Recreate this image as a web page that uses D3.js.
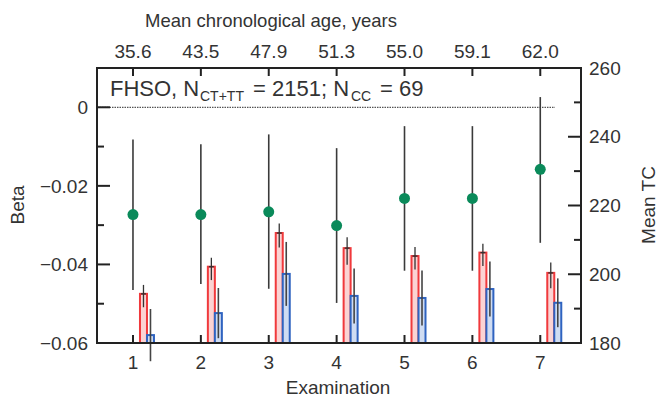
<!DOCTYPE html>
<html>
<head>
<meta charset="utf-8">
<script src="https://cdn.jsdelivr.net/npm/d3@7"></script>
<style>
  body { margin: 0; background: #fff; }
  text { font-family: "Liberation Sans", Arial, sans-serif; fill: #333; }
</style>
</head>
<body>
<svg id="chart" width="659" height="400"></svg>
<script>
"use strict";
// data
var exams = [1, 2, 3, 4, 5, 6, 7];
var ageLabels = ['35.6', '43.5', '47.9', '51.3', '55.0', '59.1', '62.0'];
var betaVal = [-0.0273, -0.0273, -0.0266, -0.0301, -0.0232, -0.0232, -0.0158];
var betaLo = [-0.0465, -0.0450, -0.0462, -0.0498, -0.0416, -0.0416, -0.0345];
var betaHi = [-0.0082, -0.0094, -0.0069, -0.0104, -0.0048, -0.0048, 0.0026];
var tcCtTt = [194.3, 202.2, 212.0, 207.6, 205.3, 206.3, 200.4];
var tcCtTtErr = [1.3, 1.3, 1.4, 1.6, 1.3, 1.3, 1.5];
var tcCc = [182.3, 188.7, 200.1, 193.7, 193.1, 195.7, 191.7];
var tcCcErr = [7.6, 7.3, 9.3, 8.0, 8.0, 8.0, 7.1];

var svg = d3.select('#chart');
var pLeft = 97, pRight = 581, pTop = 68, pBottom = 343;

var x = d3.scaleLinear().domain([0.47, 7.6]).range([pLeft, pRight]);
var yBeta = d3.scaleLinear().domain([-0.06, 0.01]).range([pBottom, pTop]);
var yTc = d3.scaleLinear().domain([180, 260]).range([pBottom, pTop]);

var ink = '#222';
var fmtBeta = function (d) { return d === 0 ? '0' : d3.format('.2f')(d).replace('-', '\u2212'); };

function frameTicks(g, ticks, scale, side, isMajor) {
    // inward ticks on the frame
    ticks.forEach(function (t) {
        var len = isMajor(t) ? 13 : 7;
        var p = scale(t);
        var line = g.append('line').attr('stroke', ink).attr('stroke-width', 2);
        if (side === 'left') line.attr('x1', pLeft).attr('x2', pLeft + len).attr('y1', p).attr('y2', p);
        if (side === 'right') line.attr('x1', pRight).attr('x2', pRight - len).attr('y1', p).attr('y2', p);
    });
}

// zero line
svg.append('line')
    .attr('x1', pLeft).attr('x2', 555)
    .attr('y1', yBeta(0)).attr('y2', yBeta(0))
    .attr('stroke', '#555').attr('stroke-width', 1.2)
    .attr('stroke-dasharray', '1.5,1');

// beta error bars
var bw = 7, redOff = 10.5, blueOff = 17.5;
var gBeta = svg.append('g');
exams.forEach(function (e, i) {
    gBeta.append('line')
        .attr('x1', x(e)).attr('x2', x(e))
        .attr('y1', yBeta(betaLo[i])).attr('y2', yBeta(betaHi[i]))
        .attr('stroke', '#3a3a3a').attr('stroke-width', 1.6);
});

// TC bars
var gBars = svg.append('g');
exams.forEach(function (e, i) {
    gBars.append('rect')
        .attr('x', x(e) + redOff - bw / 2).attr('y', yTc(tcCtTt[i]))
        .attr('width', bw).attr('height', yTc(180) - yTc(tcCtTt[i]))
        .attr('fill', '#fbd3d3').attr('stroke', '#f0393c').attr('stroke-width', 2);
    gBars.append('rect')
        .attr('x', x(e) + blueOff - bw / 2).attr('y', yTc(tcCc[i]))
        .attr('width', bw).attr('height', yTc(180) - yTc(tcCc[i]))
        .attr('fill', '#cfdcf2').attr('stroke', '#2f63c0').attr('stroke-width', 2);
});
exams.forEach(function (e, i) {
    var cx = x(e) + redOff;
    gBars.append('line')
        .attr('x1', cx).attr('x2', cx)
        .attr('y1', yTc(tcCtTt[i] - tcCtTtErr[i] * 3)).attr('y2', yTc(tcCtTt[i] + tcCtTtErr[i] * 2))
        .attr('stroke', '#333').attr('stroke-width', 1.3);
    gBars.append('line')
        .attr('x1', cx - 2.5).attr('x2', cx + 2.5)
        .attr('y1', yTc(tcCtTt[i])).attr('y2', yTc(tcCtTt[i]))
        .attr('stroke', '#333').attr('stroke-width', 1.3);
    var bx = x(e) + blueOff;
    gBars.append('line')
        .attr('x1', bx).attr('x2', bx)
        .attr('y1', yTc(tcCc[i] - tcCcErr[i])).attr('y2', yTc(tcCc[i] + tcCcErr[i]))
        .attr('stroke', '#444').attr('stroke-width', 1.6);
});

// points on top
exams.forEach(function (e, i) {
    gBeta.append('circle')
        .attr('cx', x(e)).attr('cy', yBeta(betaVal[i])).attr('r', 5.5)
        .attr('fill', '#0a8a5a');
});

// frame
svg.append('rect')
    .attr('x', pLeft).attr('y', pTop)
    .attr('width', pRight - pLeft).attr('height', pBottom - pTop)
    .attr('fill', 'none').attr('stroke', ink).attr('stroke-width', 2);

// left axis
var gl = svg.append('g');
frameTicks(gl, [-0.06, -0.05, -0.04, -0.03, -0.02, -0.01, 0], yBeta, 'left',
    function (t) { return Math.round(t * 100) % 2 === 0; });
[-0.06, -0.04, -0.02, 0].forEach(function (t) {
    gl.append('text').attr('x', 88).attr('y', yBeta(t)).attr('dy', '0.35em')
        .attr('text-anchor', 'end').style('font-size', '19px').text(fmtBeta(t));
});

// right axis
var gr = svg.append('g');
frameTicks(gr, d3.range(180, 261, 10), yTc, 'right', function (t) { return t % 20 === 0; });
yTc.ticks(4).forEach(function (t) {
    gr.append('text').attr('x', 589).attr('y', yTc(t)).attr('dy', '0.35em')
        .style('font-size', '19px').text(t);
});

// bottom and top ticks
exams.forEach(function (e, i) {
    svg.append('line').attr('x1', x(e)).attr('x2', x(e)).attr('y1', pBottom).attr('y2', pBottom - 8)
        .attr('stroke', ink).attr('stroke-width', 2);
    svg.append('line').attr('x1', x(e)).attr('x2', x(e)).attr('y1', pTop).attr('y2', pTop + 8)
        .attr('stroke', ink).attr('stroke-width', 2);
    svg.append('text').attr('x', x(e)).attr('y', 369).attr('text-anchor', 'middle')
        .style('font-size', '19px').text(e);
    svg.append('text').attr('x', x(e)).attr('y', 58).attr('text-anchor', 'middle')
        .style('font-size', '19px').text(ageLabels[i]);
});

// titles
svg.append('text').attr('x', 271).attr('y', 27).attr('text-anchor', 'middle')
    .style('font-size', '18.5px').text('Mean chronological age, years');
svg.append('text').attr('x', 338).attr('y', 394).attr('text-anchor', 'middle')
    .style('font-size', '19px').text('Examination');
svg.append('text').attr('transform', 'translate(24,205) rotate(-90)').attr('text-anchor', 'middle')
    .style('font-size', '19px').text('Beta');
svg.append('text').attr('transform', 'translate(655,205) rotate(-90)').attr('text-anchor', 'middle')
    .style('font-size', '19px').text('Mean TC');

// annotation, pieces placed to follow the reference spacing
var ann = svg.append('text').attr('y', 96).style('font-size', '22px');
ann.append('tspan').attr('x', 110).text('FHSO, N');
ann.append('tspan').attr('x', 200).attr('dy', 5).style('font-size', '14px').text('CT+TT');
ann.append('tspan').attr('x', 253).attr('dy', -5).text('= 2151; N');
ann.append('tspan').attr('x', 351).attr('dy', 5).style('font-size', '14px').text('CC');
ann.append('tspan').attr('x', 380).attr('dy', -5).text('= 69');
</script>
</body>
</html>
